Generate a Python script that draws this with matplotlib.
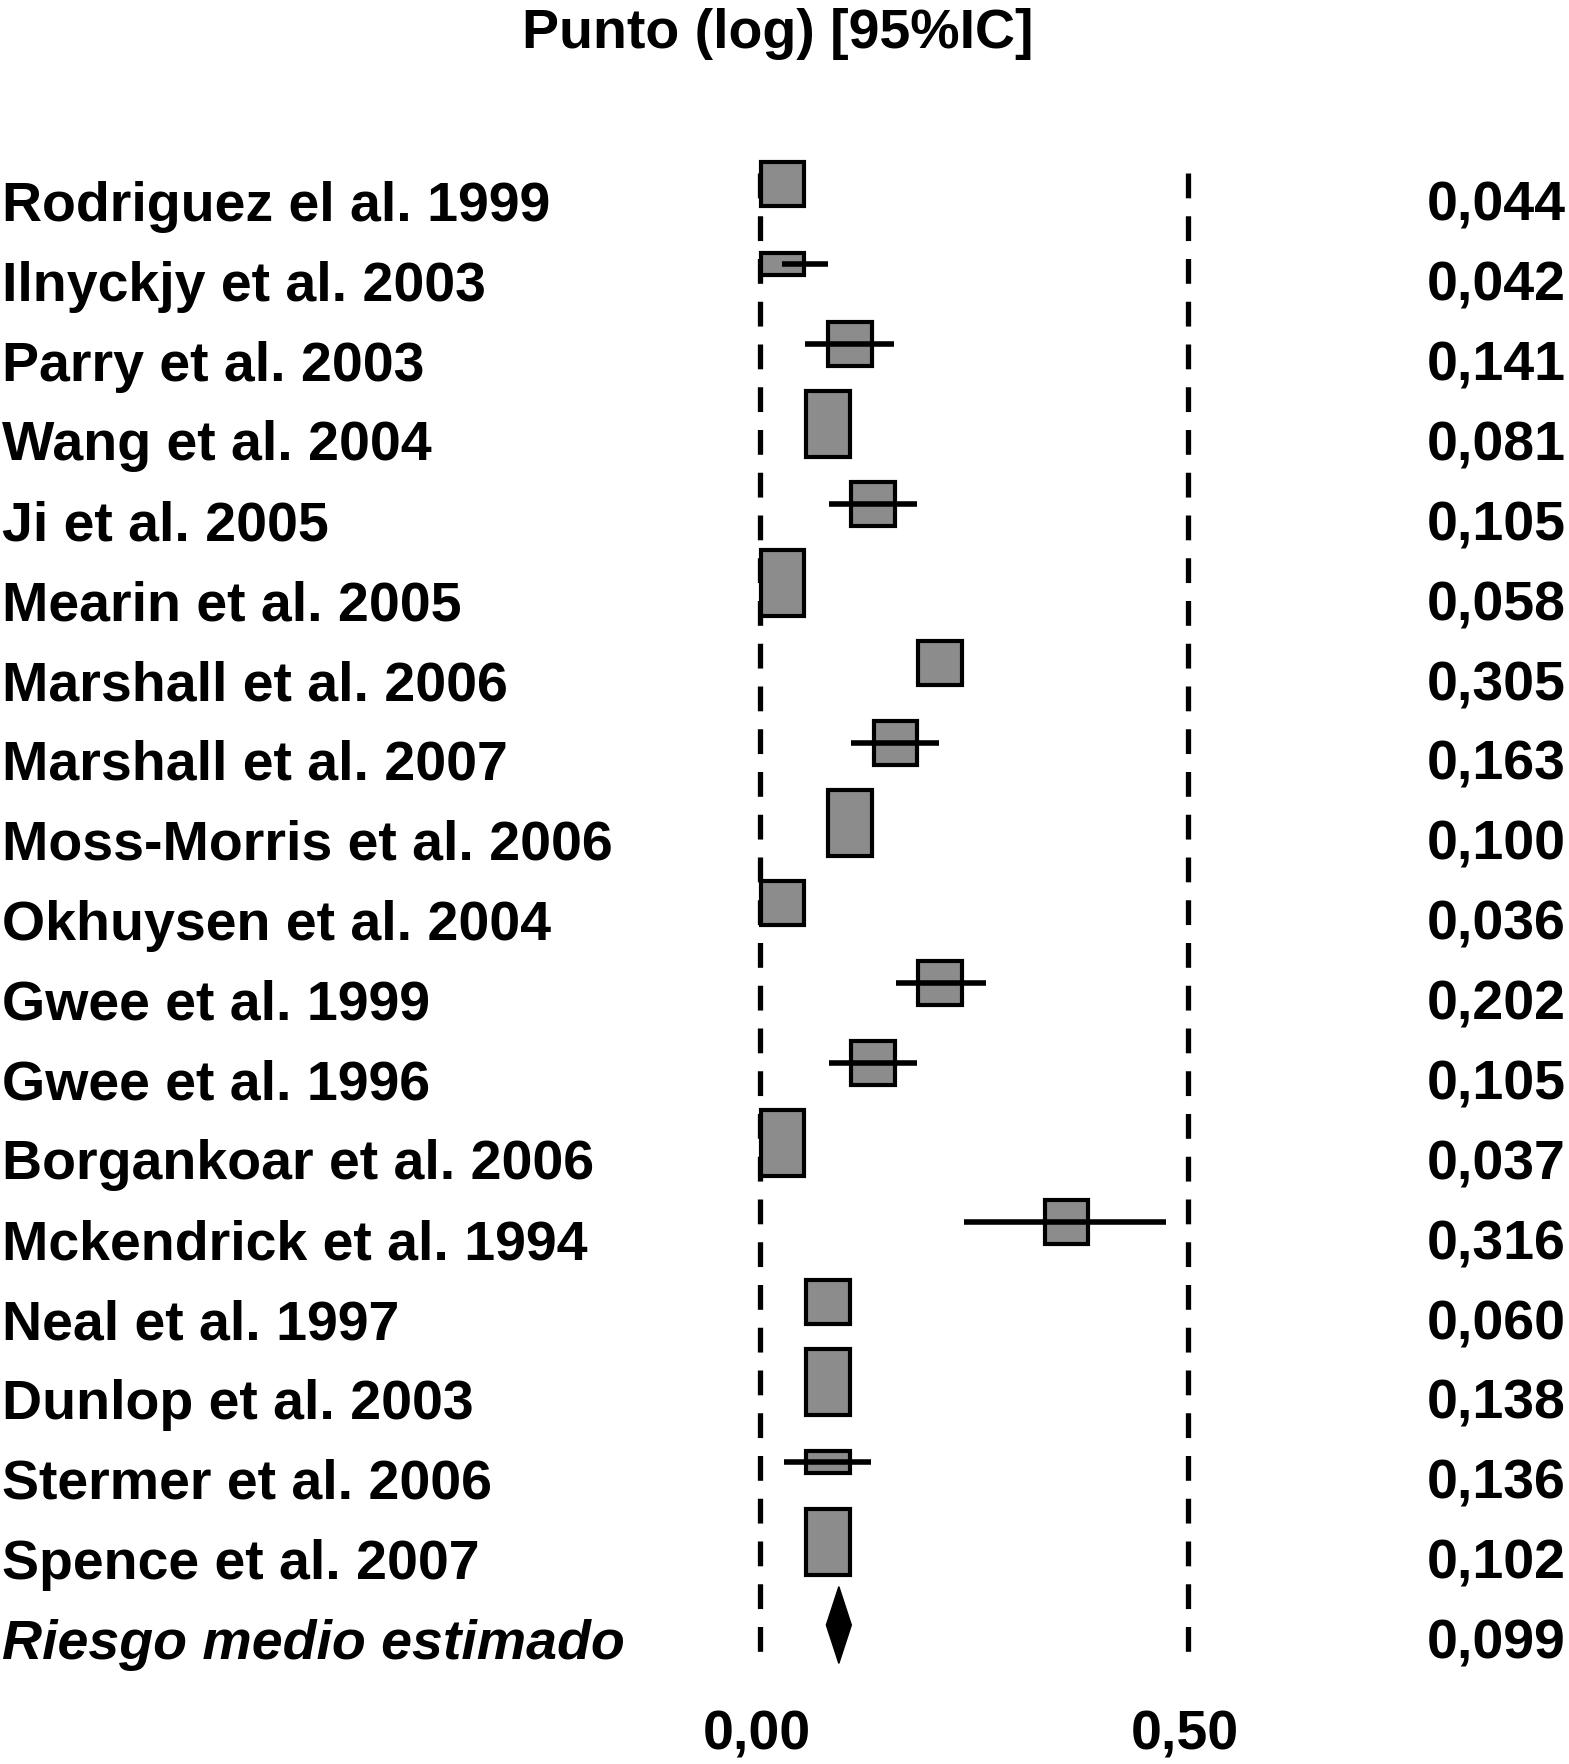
import numpy as np
import matplotlib
matplotlib.use("Agg")
import matplotlib.pyplot as plt
from matplotlib.patches import Rectangle, Polygon

# study labels and reported values
studies = ["Rodriguez el al. 1999", "Ilnyckjy et al. 2003", "Parry et al. 2003",
           "Wang et al. 2004", "Ji et al. 2005", "Mearin et al. 2005",
           "Marshall et al. 2006", "Marshall et al. 2007", "Moss-Morris et al. 2006",
           "Okhuysen et al. 2004", "Gwee et al. 1999", "Gwee et al. 1996",
           "Borgankoar et al. 2006", "Mckendrick et al. 1994", "Neal et al. 1997",
           "Dunlop et al. 2003", "Stermer et al. 2006", "Spence et al. 2007"]
value_labels = ["0,044", "0,042", "0,141", "0,081", "0,105", "0,058", "0,305",
                "0,163", "0,100", "0,036", "0,202", "0,105", "0,037", "0,316",
                "0,060", "0,138", "0,136", "0,102"]

# point positions as drawn on the axis
points = [0.026, 0.026, 0.105, 0.079, 0.132, 0.026, 0.210, 0.158, 0.105,
          0.026, 0.210, 0.132, 0.026, 0.358, 0.079, 0.079, 0.079, 0.079]
ci_low = [None, 0.026, 0.053, None, 0.080, None, None, 0.106, None,
          None, 0.159, 0.080, None, 0.238, None, None, 0.028, None]
ci_high = [None, 0.079, 0.157, None, 0.183, None, None, 0.209, None,
           None, 0.264, 0.183, None, 0.474, None, None, 0.130, None]
weights = [2, 1, 2, 3, 2, 3, 2, 2, 3, 2, 2, 2, 3, 2, 2, 3, 1, 3]

pooled_label = "Riesgo medio estimado"
pooled_value = 0.092
pooled_text = "0,099"

ticks = [0.0, 0.5]
tick_labels = ["0,00", "0,50"]

plt.rcParams['font.family'] = ['Liberation Sans', 'DejaVu Sans']
FS = 40

fig = plt.figure(figsize=(15.69, 17.64), dpi=100)
ax = fig.add_axes([0, 0, 1, 1])
ax.set_xlim(-0.888, 0.945)
ax.set_ylim(19.58, -2.504)
ax.axis('off')

n = len(studies)
rows = np.arange(n)
pooled_row = n

# reference lines
ax.vlines(ticks, -0.34, pooled_row + 0.25, colors='black', linewidth=3.8,
          linestyles=(0, (4.7, 3.4)), zorder=1)

box_w = 0.051
shift = 0.2
for i in rows:
    yc = i - shift
    h = weights[i] * 0.275
    ax.add_patch(Rectangle((points[i] - box_w / 2, yc - h / 2), box_w, h,
                           facecolor='#8c8c8c', edgecolor='black',
                           linewidth=3.0, zorder=3))
    if ci_low[i] is not None:
        ax.plot([ci_low[i], ci_high[i]], [yc, yc], color='black',
                linewidth=4.0, solid_capstyle='butt', zorder=4)

# pooled diamond
dy = pooled_row - 0.16
hw, hh = 0.0146, 0.48
ax.add_patch(Polygon([(pooled_value - hw, dy), (pooled_value, dy - hh),
                      (pooled_value + hw, dy), (pooled_value, dy + hh)],
                     closed=True, facecolor='black', edgecolor='black',
                     linewidth=1, zorder=4))

trans = ax.get_yaxis_transform()
for i in rows:
    ax.text(0.0015, i + 0.26, studies[i], transform=trans, ha='left',
            va='baseline', fontsize=FS, fontweight='bold')
    ax.text(0.998, i + 0.26, value_labels[i], transform=trans, ha='right',
            va='baseline', fontsize=FS, fontweight='bold')
ax.text(0.0015, pooled_row + 0.26, pooled_label, transform=trans, ha='left',
        va='baseline', fontsize=FS, fontweight='bold', fontstyle='italic')
ax.text(0.998, pooled_row + 0.26, pooled_text, transform=trans, ha='right',
        va='baseline', fontsize=FS, fontweight='bold')

for t, lab in zip(ticks, tick_labels):
    ax.text(t - 0.004, 19.40, lab, ha='center', va='baseline',
            fontsize=FS, fontweight='bold')

fig.text(0.496, 0.973, "Punto (log) [95%IC]", ha='center', va='baseline',
         fontsize=FS, fontweight='bold')

fig.savefig("out.png", dpi=100)
